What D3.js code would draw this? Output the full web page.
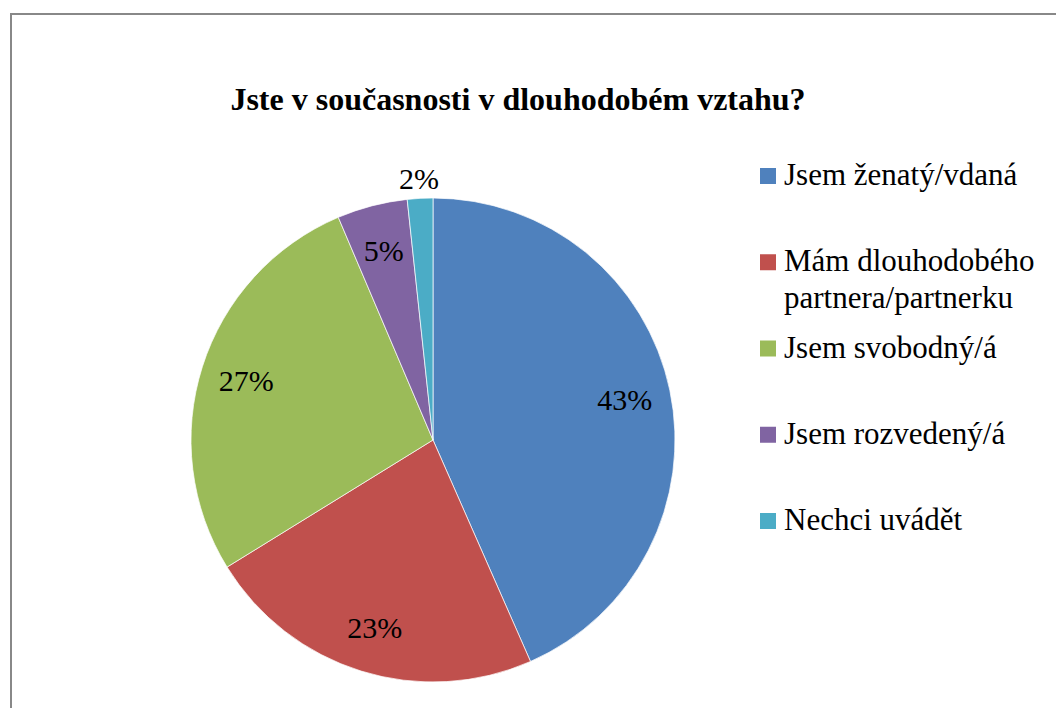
<!DOCTYPE html>
<html lang="cs">
<head>
    <meta charset="UTF-8">
    <title>Jste v současnosti v dlouhodobém vztahu?</title>
    <script src="https://d3js.org/d3.v7.min.js"></script>
    <style>
        body { margin: 0; background: #fff; }
        svg text { font-family: 'Liberation Serif', Tinos, 'Times New Roman', Times, 'DejaVu Serif', serif; fill: #000; }
        .title { font-size: 32px; font-weight: bold; }
        .label { font-size: 30px; }
        .legend text { font-size: 31px; }
    </style>
</head>
<body>
    <div id="chart"></div>
    <script>
        // data
        const categories = ["Jsem ženatý/vdaná", "Mám dlouhodobého\npartnera/partnerku", "Jsem svobodný/á", "Jsem rozvedený/á", "Nechci uvádět"];
        const values = [43.4, 22.8, 27.4, 4.7, 1.7];
        const colors = ["#4F81BD", "#C0504D", "#9BBB59", "#8064A2", "#4BACC6"];

        const width = 1056, height = 708;
        const cx = 433, cy = 440, r = 242;

        const svg = d3.select("#chart").append("svg")
            .attr("width", width)
            .attr("height", height);

        // frame of the chart area
        svg.append("rect")
            .attr("x", 11).attr("y", 14)
            .attr("width", 1200).attr("height", 900)
            .attr("fill", "none")
            .attr("stroke", "#888")
            .attr("stroke-width", 2);

        svg.append("text")
            .attr("class", "title")
            .attr("x", 518).attr("y", 110)
            .attr("text-anchor", "middle")
            .text("Jste v současnosti v dlouhodobém vztahu?");

        const data = categories.map((c, i) => ({ name: c, value: values[i], color: colors[i] }));

        const pie = d3.pie().sort(null).value(d => d.value);
        const arcs = pie(data);
        const arc = d3.arc().innerRadius(0).outerRadius(r);
        const inLabel = d3.arc().innerRadius(196).outerRadius(196);
        const outLabel = d3.arc().innerRadius(262).outerRadius(262);

        const g = svg.append("g").attr("transform", `translate(${cx},${cy})`);

        g.selectAll("path")
            .data(arcs)
            .enter().append("path")
            .attr("d", arc)
            .attr("fill", d => d.data.color)
            .attr("stroke", "#fff")
            .attr("stroke-width", 0.7);

        g.selectAll(".label")
            .data(arcs)
            .enter().append("text")
            .attr("class", "label")
            .attr("transform", d => `translate(${(d.data.value < 3 ? outLabel : inLabel).centroid(d)})`)
            .attr("text-anchor", "middle")
            .attr("dy", "0.35em")
            .text(d => d3.format(".0f")(d.data.value) + "%");

        // legend
        const ly = d3.scalePoint().domain(categories).range([185, 530]);
        const legend = svg.append("g").attr("class", "legend");
        const item = legend.selectAll("g")
            .data(data)
            .enter().append("g")
            .attr("transform", d => `translate(760,${ly(d.name)})`);

        item.append("rect")
            .attr("x", 0).attr("y", -17)
            .attr("width", 16).attr("height", 16)
            .attr("fill", d => d.color);

        item.append("text")
            .attr("x", 24)
            .selectAll("tspan")
            .data(d => d.name.split("\n"))
            .enter().append("tspan")
            .attr("x", 24)
            .attr("dy", (d, i) => i ? 37 : 0)
            .text(d => d);
    </script>
</body>
</html>
